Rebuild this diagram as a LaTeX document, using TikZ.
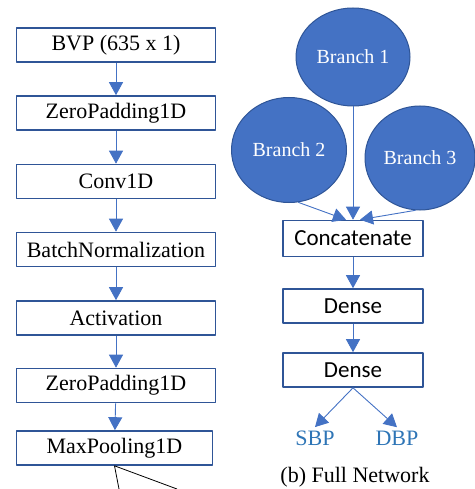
\documentclass[tikz,border=0pt]{standalone}
\usepackage{fontspec}
\setmainfont{Liberation Serif}
\newfontfamily\calib{Carlito}
\usetikzlibrary{shapes.geometric,arrows.meta}

\definecolor{boxblue}{RGB}{47,85,151}
\definecolor{arrblue}{RGB}{68,114,196}
\definecolor{outblue}{RGB}{46,117,182}

\tikzset{
  layer/.style={draw=boxblue, line width=1.6pt, fill=white, minimum width=199pt,
    minimum height=34pt, inner sep=0pt, font=\fontsize{22}{26}\selectfont},
  calayer/.style={layer, minimum width=140pt, font=\calib\fontsize{23}{27}\selectfont},
  branch/.style={ellipse, draw=boxblue, line width=1pt, fill=arrblue, inner sep=0pt,
    text=white, font=\fontsize{20}{24}\selectfont},
  flow/.style={->, draw=arrblue, line width=0.9pt},
}

\begin{document}
\begin{tikzpicture}[x=1pt, y=-1pt, >={Triangle[length=13pt,width=14pt]}, line join=round]
    \useasboundingbox (0,0) rectangle (474,489);

    % (a) nhánh bên trái
    \node[layer] (bvp)  at (116, 45)   {BVP (635 x 1)};
    \node[layer] (zp1)  at (116, 113)  {ZeroPadding1D};
    \node[layer] (conv) at (116, 181.5) {Conv1D};
    \node[layer] (bn)   at (116, 249.5) {BatchNormalization};
    \node[layer] (act)  at (116, 318)  {Activation};
    \node[layer] (zp2)  at (116, 385.5) {ZeroPadding1D};
    \node[layer, minimum width=196pt] (mp) at (114.5, 448) {MaxPooling1D};

    \draw[flow] (bvp) -- (zp1);
    \draw[flow] (zp1) -- (conv);
    \draw[flow] (conv) -- (bn);
    \draw[flow] (bn) -- (act);
    \draw[flow] (act) -- (zp2);
    \draw[flow] (zp2) -- (mp);

    \coordinate (cut1) at (119, 489);
    \coordinate (cut2) at (177, 489);
    \draw[line width=0.8pt] (mp.south) -- (cut1);
    \draw[line width=0.8pt] (mp.south) -- (cut2);

    % (b) mạng đầy đủ
    \node[branch, minimum width=114pt, minimum height=98pt]  (b1) at (353, 57)  {Branch 1};
    \node[branch, minimum width=115pt, minimum height=105pt] (b2) at (289, 150) {Branch 2};
    \node[branch, minimum width=110pt, minimum height=104pt] (b3) at (420, 158) {Branch 3};

    \node[calayer, minimum height=36pt] (cat) at (353, 238.5) {Concatenate};
    \node[calayer] (d1) at (353, 306) {Dense};
    \node[calayer] (d2) at (353, 370) {Dense};

    \draw[flow] (b1) -- (cat);
    \draw[flow] (b2.-80) -- ([xshift=-7pt]cat.north);
    \draw[flow] (b3.-95) -- ([xshift=7pt]cat.north);
    \draw[flow] (cat) -- (d1);
    \draw[flow] (d1) -- (d2);

    \node[text=outblue, font=\fontsize{22}{26}\selectfont] (sbp) at (315, 438) {SBP};
    \node[text=outblue, font=\fontsize{22}{26}\selectfont] (dbp) at (397, 438) {DBP};
    \draw[flow] (d2.south) -- (sbp.north);
    \draw[flow] (d2.south) -- (dbp.north);

    \node[font=\fontsize{22}{26}\selectfont] (cap) at (355, 477) {(b) Full Network};
\end{tikzpicture}
\end{document}
